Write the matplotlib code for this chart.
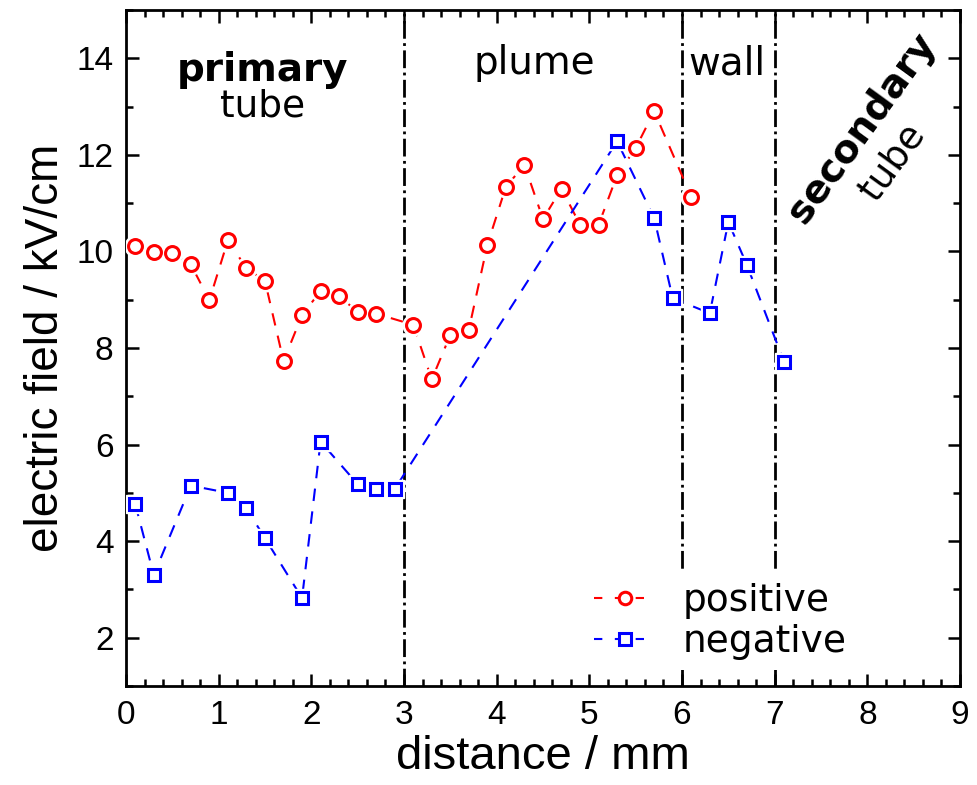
import numpy as np
import matplotlib
matplotlib.use("Agg")
import matplotlib.pyplot as plt
from matplotlib.lines import Line2D

# ── data
pos_x = [0.1, 0.3, 0.5, 0.7, 0.9, 1.1, 1.3, 1.5, 1.7, 1.9, 2.1, 2.3, 2.5, 2.7,
         3.1, 3.3, 3.5, 3.7, 3.9, 4.1, 4.3, 4.5, 4.7, 4.9, 5.1, 5.3, 5.5, 5.7,
         6.1]
pos_y = [10.12, 9.98, 9.96, 9.73, 8.99, 10.23, 9.65, 9.39, 7.73, 8.68, 9.18,
         9.07, 8.75, 8.71, 8.48, 7.35, 8.27, 8.38, 10.14, 11.34, 11.79, 10.67,
         11.30, 10.55, 10.55, 11.58, 12.14, 12.90, 11.13]

neg_x = [0.1, 0.3, 0.7, 1.1, 1.3, 1.5, 1.9, 2.1, 2.5, 2.7, 2.9,
         5.3, 5.7, 5.9, 6.3, 6.5, 6.7, 7.1]
neg_y = [4.77, 3.30, 5.15, 5.00, 4.68, 4.06, 2.82, 6.06, 5.18, 5.07, 5.08,
         12.28, 10.69, 9.03, 8.72, 10.61, 9.72, 7.72]

boundaries = [3, 6, 7]

plt.rcParams['font.family'] = ['DejaVu Sans']
ARIAL = 'Liberation Sans'

fig = plt.figure(figsize=(9.78, 7.85), dpi=100)
ax = fig.add_axes([0.1288, 0.1261, 0.8528, 0.8612])

for xb in boundaries:
    ax.axvline(xb, color='black', linestyle='-.', linewidth=2, zorder=1)


def draw_series(x, y, color, marker, ms):
    ax.plot(x, y, linestyle='--', color=color, linewidth=1.5,
            dashes=(6, 5), zorder=2)
    # white halo so the dashes stop short of the markers
    ax.plot(x, y, linestyle='none', marker=marker, markersize=ms + 5,
            markerfacecolor='white', markeredgecolor='white', zorder=3)
    ax.plot(x, y, linestyle='none', marker=marker, markersize=ms,
            markerfacecolor='white', markeredgecolor=color,
            markeredgewidth=2.2, zorder=4)


draw_series(pos_x, pos_y, 'red', 'o', 10)
draw_series(neg_x, neg_y, 'blue', 's', 8)

ax.set_xlim(0, 9)
ax.set_ylim(1, 15)
ax.set_xticks(np.arange(0, 10, 1))
ax.set_xticks(np.arange(0, 9.01, 0.2), minor=True)
ax.set_yticks(np.arange(2, 15, 2))
ax.set_yticks(np.arange(1, 15.1, 1), minor=True)
ax.tick_params(which='both', direction='in', top=True, right=True,
               width=1.8, labelsize=24)
ax.tick_params(which='major', length=9)
ax.tick_params(which='minor', length=5)
ax.tick_params(axis='x', pad=10)
ax.tick_params(axis='y', pad=9)
for lab in ax.get_xticklabels() + ax.get_yticklabels():
    lab.set_fontfamily(ARIAL)
for sp in ax.spines.values():
    sp.set_linewidth(2)

ax.set_xlabel("distance / mm", fontsize=34, family=ARIAL, labelpad=3)
ax.set_ylabel("electric field / kV/cm", fontsize=33, family=ARIAL,
              labelpad=6)

ax.text(1.47, 13.75, "primary", fontsize=28, fontweight='bold',
        ha='center', va='center')
ax.text(1.47, 13.0, "tube", fontsize=27, ha='center', va='center')
ax.text(4.41, 13.9, "plume", fontsize=28, ha='center', va='center')
ax.text(6.48, 13.9, "wall", fontsize=28, ha='center', va='center')
ax.text(7.94, 12.56, "secondary", fontsize=28, fontweight='bold',
        rotation=54, ha='center', va='center', rotation_mode='anchor')
ax.text(8.27, 11.85, "tube", fontsize=27, rotation=54,
        ha='center', va='center', rotation_mode='anchor')

handles = [
    Line2D([], [], color='red', linestyle='--', dashes=(4, 6), linewidth=1.5,
           marker='o', markersize=9, markerfacecolor='white',
           markeredgewidth=2.2),
    Line2D([], [], color='blue', linestyle='--', dashes=(4, 6), linewidth=1.5,
           marker='s', markersize=8, markerfacecolor='white',
           markeredgewidth=2.2),
]
leg = ax.legend(handles, ["positive", "negative"], loc='lower left',
                bbox_to_anchor=(0.550, 0.024), frameon=True, fontsize=27,
                handlelength=1.65, handletextpad=0.72, labelspacing=0.15,
                borderpad=0.25, borderaxespad=0, fancybox=False,
                facecolor='white', edgecolor='none', framealpha=1)
leg.set_zorder(5)

fig.savefig("out.png", dpi=100)
